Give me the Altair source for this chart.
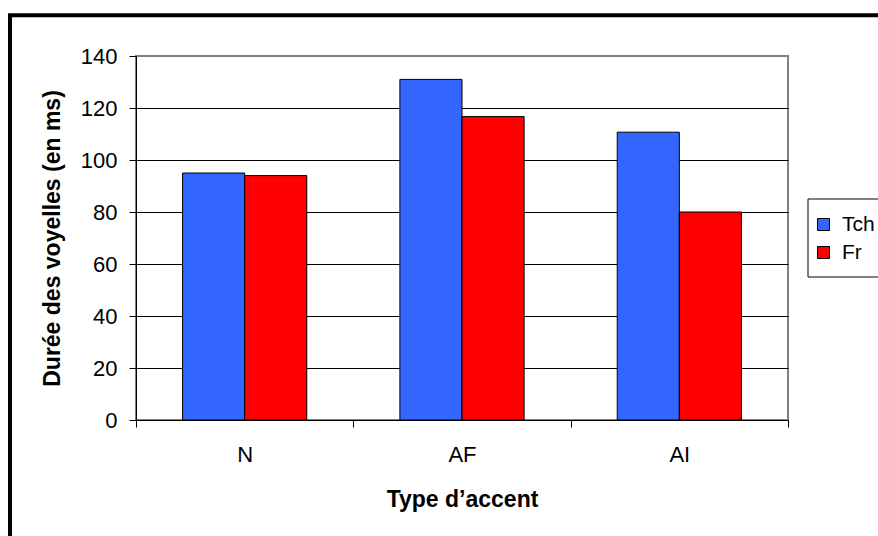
import altair as alt
import pandas as pd

categories = ["N", "AF", "AI"]
series = ["Tch", "Fr"]
tch_values = [95, 131, 110.7]
fr_values = [94, 116.7, 80]
colors = ["#3366FF", "#FF0000"]
y_ticks = [0, 20, 40, 60, 80, 100, 120, 140]

rows = []
for c, t, f in zip(categories, tch_values, fr_values):
    rows.append({"accent": c, "langue": "Tch", "duree": t})
    rows.append({"accent": c, "langue": "Fr", "duree": f})
df = pd.DataFrame(rows)

FONT = "Liberation Sans"

bars = alt.Chart(df).mark_bar(stroke="black", strokeWidth=1).encode(
    x=alt.X(
        "accent:N",
        sort=categories,
        scale=alt.Scale(paddingInner=0, paddingOuter=0),
        axis=alt.Axis(
            title="Type d’accent",
            labelAngle=0,
            tickBand="extent",
            grid=False,
            domainColor="black",
            domainWidth=1,
            tickColor="black",
            tickSize=7,
            labelFont=FONT,
            labelFontSize=22,
            labelColor="black",
            labelPadding=17,
            titleFont=FONT,
            titleFontSize=23,
            titleFontWeight="bold",
            titleColor="black",
            titleX=326,
            titleY=86,
            titleBaseline="alphabetic",
        ),
    ),
    xOffset=alt.XOffset(
        "langue:N", sort=series, scale=alt.Scale(paddingInner=0, paddingOuter=0.75)
    ),
    y=alt.Y(
        "duree:Q",
        scale=alt.Scale(domain=[0, 140], nice=False),
        axis=alt.Axis(
            values=y_ticks,
            title="Durée des voyelles (en ms)",
            grid=True,
            gridColor={"condition": {"test": "datum.value === 140", "value": "#808080"}, "value": "black"},
            gridWidth=1,
            domainColor="black",
            domainWidth=1,
            tickColor="black",
            tickSize=7,
            labelFont=FONT,
            labelFontSize=22,
            labelColor="black",
            labelPadding=12,
            titleFont=FONT,
            titleFontSize=23,
            titleFontWeight="bold",
            titleColor="black",
            titleAngle=270,
            titleX=-84,
            titleY=182,
            titleAlign="center",
            titleBaseline="middle",
        ),
    ),
    color=alt.Color(
        "langue:N",
        sort=series,
        scale=alt.Scale(domain=series, range=colors),
        legend=alt.Legend(
            title=None,
            orient="none",
            legendX=677,
            legendY=158,
            padding=0,
            symbolType="square",
            symbolSize=144,
            symbolStrokeColor="black",
            symbolStrokeWidth=1,
            symbolOpacity=1,
            labelFont=FONT,
            labelFontSize=21,
            labelColor="black",
            labelOffset=8,
            rowPadding=6,
        ),
    ),
)

frame = alt.Chart(pd.DataFrame({"k": [0]})).mark_rect(
    fillOpacity=0, stroke="black", strokeWidth=4
).encode(
    x=alt.value(-126), x2=alt.value(770), y=alt.value(-40.7), y2=alt.value(500)
)

legend_box = alt.Chart(pd.DataFrame({"k": [0]})).mark_rect(
    fillOpacity=0, stroke="black", strokeWidth=1
).encode(
    x=alt.value(672), x2=alt.value(790), y=alt.value(143), y2=alt.value(221)
)

chart = alt.layer(frame, legend_box, bars).properties(
    width=652,
    height=364,
    autosize=alt.AutoSizeParams(type="none"),
    padding={"left": 136, "top": 56, "right": 90, "bottom": 116},
    background="white",
).configure_view(stroke="#808080", strokeWidth=2)

chart.save("out.html", embed_options={"renderer": "svg", "actions": False})
